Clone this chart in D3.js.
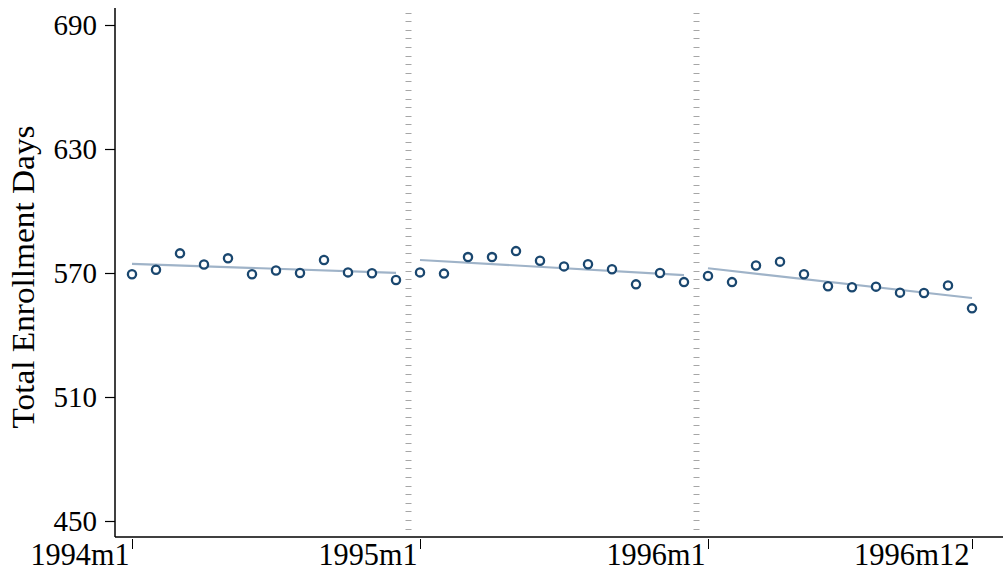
<!DOCTYPE html>
<html><head><meta charset="utf-8">
<script src="https://cdn.jsdelivr.net/npm/d3@7"></script>
<style>body{margin:0;background:#fff}svg{display:block}text{font-family:"Liberation Serif","Times New Roman",serif}</style>
</head><body>
<svg id="chart" width="1003" height="571"></svg>
<script>
// month index 0 = 1994m1 ... 35 = 1996m12
const months = d3.range(36);
const enrollment = [
  569.4, 571.6, 579.5, 574.1, 577.1, 569.4, 571.2, 570.0, 576.3, 570.3, 569.9, 566.6,
  570.3, 569.7, 577.7, 577.7, 580.6, 575.9, 573.2, 574.2, 571.8, 564.5, 570.0, 565.6,
  568.6, 565.6, 573.6, 575.5, 569.4, 563.6, 563.1, 563.4, 560.5, 560.3, 564.0, 552.9
];
// fitted line endpoints per year segment
const fitStartMonth = [0, 12, 24];
const fitEndMonth = [11, 23, 35];
const fitStartValue = [574.4, 576.3, 572.3];
const fitEndValue = [570.1, 569.0, 557.9];
const breakMonths = [11.5, 23.5];
const yTicks = [450, 510, 570, 630, 690];
const xTicks = [0, 12, 24, 35];
const xTickLabels = ["1994m1", "1995m1", "1996m1", "1996m12"];

const svg = d3.select("#chart");
const x = d3.scaleLinear().domain([0, 35]).range([132, 972]);
const y = d3.scaleLinear().domain([450, 690]).range([521, 25]);

const navy = "#1a476f", fitCol = "#9fb3c8";

// break lines (short horizontal dashes)
breakMonths.forEach(b => {
  const xs = Math.round(x(b)) + 0.5;
  const ys = d3.range(12.5, 534, 8.6);
  svg.append("g").selectAll("line").data(ys).join("line")
    .attr("x1", xs - 3).attr("x2", xs + 3)
    .attr("y1", d => Math.round(d) + 0.5).attr("y2", d => Math.round(d) + 0.5)
    .attr("stroke", "#a6a6a6").attr("stroke-width", 1);
});

// fit lines
svg.append("g").selectAll("line").data(fitStartMonth).join("line")
  .attr("x1", (d, i) => x(fitStartMonth[i])).attr("x2", (d, i) => x(fitEndMonth[i]))
  .attr("y1", (d, i) => y(fitStartValue[i])).attr("y2", (d, i) => y(fitEndValue[i]))
  .attr("stroke", fitCol).attr("stroke-width", 2.2);

// points
svg.append("g").selectAll("circle").data(months).join("circle")
  .attr("cx", d => x(d)).attr("cy", d => y(enrollment[d])).attr("r", 4.1)
  .attr("fill", "#fff").attr("stroke", navy).attr("stroke-width", 2.3);

// y axis
const yAxis = svg.append("g").attr("transform", "translate(115,0)")
  .call(d3.axisLeft(y).tickValues(yTicks).tickSize(10).tickPadding(8).tickFormat(d3.format("d")));
yAxis.select(".domain").attr("d", "M0,8V537").attr("stroke", "#000").attr("stroke-width", 1.5);
yAxis.selectAll(".tick line").attr("stroke", "#000").attr("stroke-width", 1.2);
yAxis.selectAll(".tick text").attr("font-size", 29).attr("fill", "#000").attr("dy", "0.34em")
  .attr("font-family", "Liberation Serif");

// x axis
const xAxis = svg.append("g").attr("transform", "translate(0,537)")
  .call(d3.axisBottom(x).tickValues(xTicks).tickSize(12).tickFormat((d, i) => xTickLabels[i]));
xAxis.select(".domain").attr("d", "M115,0H1003").attr("stroke", "#000").attr("stroke-width", 1.5);
xAxis.selectAll(".tick line").attr("stroke", "#000").attr("stroke-width", 1).attr("y1", 2);
xAxis.selectAll(".tick text").attr("font-size", 31).attr("fill", "#000")
  .attr("text-anchor", "end").attr("x", -3).attr("y", 0).attr("dy", "0.9em")
  .attr("font-family", "Liberation Serif")
  .attr("textLength", (d, i) => xTickLabels[i].length * 16.5).attr("lengthAdjust", "spacingAndGlyphs");

// y title
svg.append("text").attr("transform", "translate(34,277) rotate(-90)")
  .attr("text-anchor", "middle").attr("font-size", 31).attr("fill", "#000")
  .attr("textLength", 303).attr("lengthAdjust", "spacingAndGlyphs")
  .text("Total Enrollment Days");
</script>
</body></html>
